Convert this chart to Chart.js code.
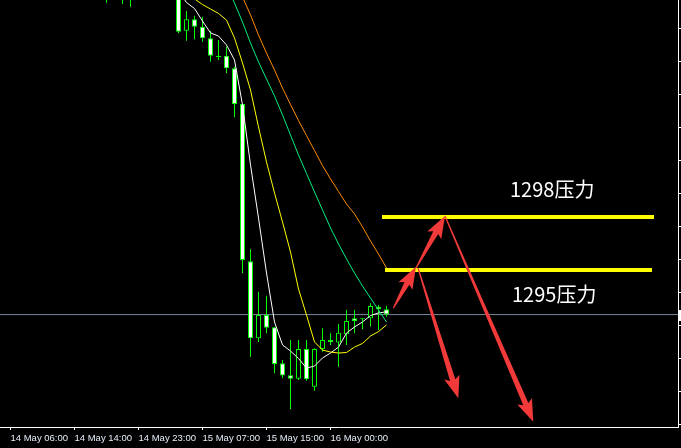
<!DOCTYPE html>
<html>
<head>
<meta charset="utf-8">
<script src="https://cdn.jsdelivr.net/npm/chart.js@4.4.0/dist/chart.umd.min.js"></script>
<style>
html, body { margin: 0; padding: 0; background: #000; }
#wrap { width: 681px; height: 448px; }
</style>
</head>
<body>
<div id="wrap"><canvas id="chart" width="681" height="448"></canvas></div>
<script>
// H1 bars, index 0 = 14 May 06:00
const barIndex = [12, 14, 15, 21, 22, 23, 24, 25, 26, 27, 28, 29, 30, 31, 32, 33, 34, 35, 36, 37, 38, 39, 40, 41, 42, 43, 44, 45, 46, 47];
const opens  = [1312.62, 1312.20, 1311.95, 1312.02, 1309.85, 1310.55, 1310.10, 1309.39, 1308.34, 1308.34, 1307.58, 1305.41, 1295.88, 1291.21, 1292.62, 1291.88, 1289.70, 1288.97, 1288.76, 1290.56, 1288.28, 1290.56, 1291.11, 1290.95, 1291.45, 1292.42, 1292.42, 1292.42, 1293.13, 1292.97];
const highs  = [1313.23, 1312.62, 1312.40, 1312.20, 1311.05, 1310.76, 1310.70, 1309.84, 1309.29, 1308.88, 1307.67, 1305.41, 1296.61, 1294.04, 1293.79, 1291.88, 1289.90, 1291.11, 1291.11, 1291.11, 1290.61, 1291.82, 1291.52, 1292.08, 1292.93, 1292.93, 1292.42, 1293.33, 1293.23, 1293.17];
const lows   = [1311.55, 1311.47, 1311.31, 1309.70, 1309.25, 1309.33, 1309.19, 1307.98, 1308.08, 1307.27, 1304.61, 1295.15, 1290.10, 1290.99, 1291.52, 1289.09, 1288.81, 1286.91, 1288.68, 1288.64, 1288.04, 1290.40, 1290.81, 1289.49, 1290.81, 1291.52, 1291.76, 1291.92, 1291.72, 1292.52];
const closes = [1312.20, 1311.85, 1311.80, 1309.79, 1310.55, 1310.10, 1309.39, 1308.34, 1308.26, 1307.58, 1305.41, 1295.96, 1291.21, 1292.62, 1291.85, 1289.65, 1288.95, 1288.76, 1290.56, 1288.73, 1290.56, 1291.11, 1290.97, 1291.55, 1292.26, 1292.26, 1292.36, 1293.17, 1292.97, 1292.65];

// moving averages, each starts at the given bar index
const maWhiteStart = 21;
const maWhite = [1312.32, 1311.56, 1311.20, 1310.44, 1309.72, 1309.53, 1308.99, 1308.08, 1305.35, 1301.72, 1298.50, 1295.17, 1292.20, 1290.81, 1290.44, 1289.99, 1289.41, 1289.53, 1290.02, 1290.32, 1290.68, 1291.53, 1291.90, 1292.20, 1292.59, 1292.75, 1292.82];
const maYellowStart = 22;
const maYellow = [1312.32, 1311.78, 1311.44, 1311.17, 1310.90, 1310.50, 1309.41, 1307.90, 1306.26, 1304.02, 1301.90, 1300.02, 1298.26, 1296.44, 1294.20, 1292.62, 1290.99, 1290.50, 1290.38, 1290.32, 1290.35, 1290.68, 1290.90, 1291.35, 1291.62, 1292.02];
const maGreenStart = 27;
const maGreen = [1312.62, 1311.53, 1310.38, 1309.11, 1307.96, 1306.93, 1305.90, 1304.75, 1303.53, 1302.32, 1301.20, 1300.08, 1298.99, 1297.90, 1296.93, 1296.02, 1295.17, 1294.38, 1293.65, 1292.93, 1292.20];
const maOrangeStart = 28;
const maOrange = [1312.93, 1311.90, 1310.81, 1309.59, 1308.50, 1307.47, 1306.38, 1305.38, 1304.41, 1303.50, 1302.59, 1301.68, 1300.87, 1300.11, 1299.35, 1298.75, 1297.96, 1297.11, 1296.32, 1295.47];

// axis
const timeTicks = [0, 8, 16, 24, 32, 40];
const timeLabels = ['14 May 06:00', '14 May 14:00', '14 May 23:00', '15 May 07:00', '15 May 15:00', '16 May 00:00'];
const priceTicks = [1286, 1288, 1290, 1292, 1294, 1296, 1298, 1300, 1302, 1304, 1306, 1308, 1310];

// drawn annotations (bar index / price)
const levelPrices = [1298.56, 1295.35];
const levelFrom = [46.44, 46.81];
const levelTo = [80.44, 80.19];
const levelText = ['1298压力', '1295压力'];
const levelTextX = [62.44, 62.69];
const levelTextY = [1299.78, 1293.41];
const arrowFrom = [[47.85, 1293.03], [50.69, 1295.47], [50.94, 1295.47], [54.31, 1298.62]];
const arrowTo   = [[50.69, 1295.55], [54.31, 1298.62], [55.98, 1287.58], [65.35, 1286.16]];

const xMin = -10.5 / 8, xMax = (678 - 10.5) / 8;
const yMax = 1311.715, yMin = yMax - 427 / 16.5;
const bid = closes[closes.length - 1];

const wicks = barIndex.map((k, i) => ({x: k, y: [lows[i], highs[i]]}));
const bodies = barIndex.map((k, i) => ({x: k, y: [opens[i], closes[i]]}));
const bodyFill = barIndex.map((k, i) => closes[i] < opens[i] ? '#ffffff' : '#000000');
const maPoints = (start, arr) => arr.map((v, i) => ({x: start + i, y: v}));

function line(data, color, width, order) {
  return {type: 'line', data: data, borderColor: color, borderWidth: width, pointRadius: 0, tension: 0, order: order, borderCapStyle: 'butt'};
}

const datasets = [
  line([{x: xMin, y: bid}, {x: xMax, y: bid}], '#778899', 1, 5),
  {type: 'bar', data: wicks, backgroundColor: '#00ff00', barThickness: 1, grouped: false, inflateAmount: 0, borderWidth: 0, order: 4},
  {type: 'bar', data: bodies, backgroundColor: bodyFill, borderColor: '#00ff00', borderWidth: 1, borderSkipped: false, barThickness: 5, grouped: false, inflateAmount: 0, order: 3},
  line(maPoints(maOrangeStart, maOrange), '#ff8c00', 1, 2),
  line(maPoints(maGreenStart, maGreen), '#00f080', 1, 2),
  line(maPoints(maYellowStart, maYellow), '#ffff00', 1, 2),
  line(maPoints(maWhiteStart, maWhite), '#ffffff', 1, 2)
];
levelPrices.forEach((p, i) => {
  datasets.push(line([{x: levelFrom[i], y: p}, {x: levelTo[i], y: p}], '#ffff00', 4, 1));
});

/* background, arrows, text */
const overlay = {
  id: 'overlay',
  beforeDraw(chart) {
    const c = chart.ctx;
    c.save();
    c.fillStyle = '#000000';
    c.fillRect(0, 0, chart.width, chart.height);
    c.restore();
  },
  afterDatasetsDraw(chart) {
    const c = chart.ctx;
    const sx = chart.scales.x, sy = chart.scales.y;
    c.save();
    c.fillStyle = '#f23a3a';
    arrowFrom.forEach((f, i) => {
      const x0 = sx.getPixelForValue(f[0]), y0 = sy.getPixelForValue(f[1]);
      const x1 = sx.getPixelForValue(arrowTo[i][0]), y1 = sy.getPixelForValue(arrowTo[i][1]);
      const len = Math.hypot(x1 - x0, y1 - y0);
      const ux = (x1 - x0) / len, uy = (y1 - y0) / len;
      const nx = -uy, ny = ux;
      const hl = 19, bx = x1 - ux * hl, by = y1 - uy * hl;
      c.beginPath();
      c.moveTo(x0 + nx * 0.6, y0 + ny * 0.6);
      c.lineTo(bx + nx * 2.8, by + ny * 2.8);
      c.lineTo(bx - ux * 3 + nx * 8, by - uy * 3 + ny * 8);
      c.lineTo(x1, y1);
      c.lineTo(bx - ux * 3 - nx * 8, by - uy * 3 - ny * 8);
      c.lineTo(bx - nx * 2.8, by - ny * 2.8);
      c.lineTo(x0 - nx * 0.6, y0 - ny * 0.6);
      c.closePath();
      c.fill();
    });

    c.fillStyle = '#ffffff';
    c.font = '20px "Noto Sans CJK SC"';
    c.textAlign = 'left';
    c.textBaseline = 'alphabetic';
    levelText.forEach((t, i) => {
      c.fillText(t, sx.getPixelForValue(levelTextX[i]), sy.getPixelForValue(levelTextY[i]));
    });

    // edge of the bid label on the price scale
    const by = Math.round(sy.getPixelForValue(bid));
    c.fillStyle = '#ffffff';
    c.fillRect(679, by - 5, 2, 11);
    c.restore();
  }
};

new Chart(document.getElementById('chart'), {
  data: {datasets: datasets},
  options: {
    responsive: false,
    animation: false,
    devicePixelRatio: 1,
    layout: {padding: 0},
    plugins: {legend: {display: false}, tooltip: {enabled: false}},
    scales: {
      x: {
        type: 'linear', position: 'bottom', min: xMin, max: xMax, offset: false,
        grid: {drawOnChartArea: false, drawTicks: true, tickLength: 3, color: '#ffffff', offset: false},
        border: {display: true, color: '#ffffff', width: 1},
        ticks: {
          color: '#e6eefa', font: {family: '"Liberation Sans"', size: 9.5}, padding: 3,
          align: 'start', autoSkip: false, maxRotation: 0,
          callback: (v, i) => timeLabels[i]
        },
        afterBuildTicks: s => { s.ticks = timeTicks.map(v => ({value: v})); },
        afterFit: s => { s.height = 21; s.paddingLeft = 0; s.paddingRight = 0; }
      },
      y: {
        type: 'linear', position: 'right', min: yMin, max: yMax,
        grid: {drawOnChartArea: false, drawTicks: true, tickLength: 3, color: '#ffffff'},
        border: {display: true, color: '#ffffff', width: 1},
        ticks: {display: false},
        afterBuildTicks: s => { s.ticks = priceTicks.map(v => ({value: v})); },
        afterFit: s => { s.width = 3; s.paddingTop = 0; s.paddingBottom = 0; }
      }
    }
  },
  plugins: [overlay]
});
</script>
</body>
</html>
